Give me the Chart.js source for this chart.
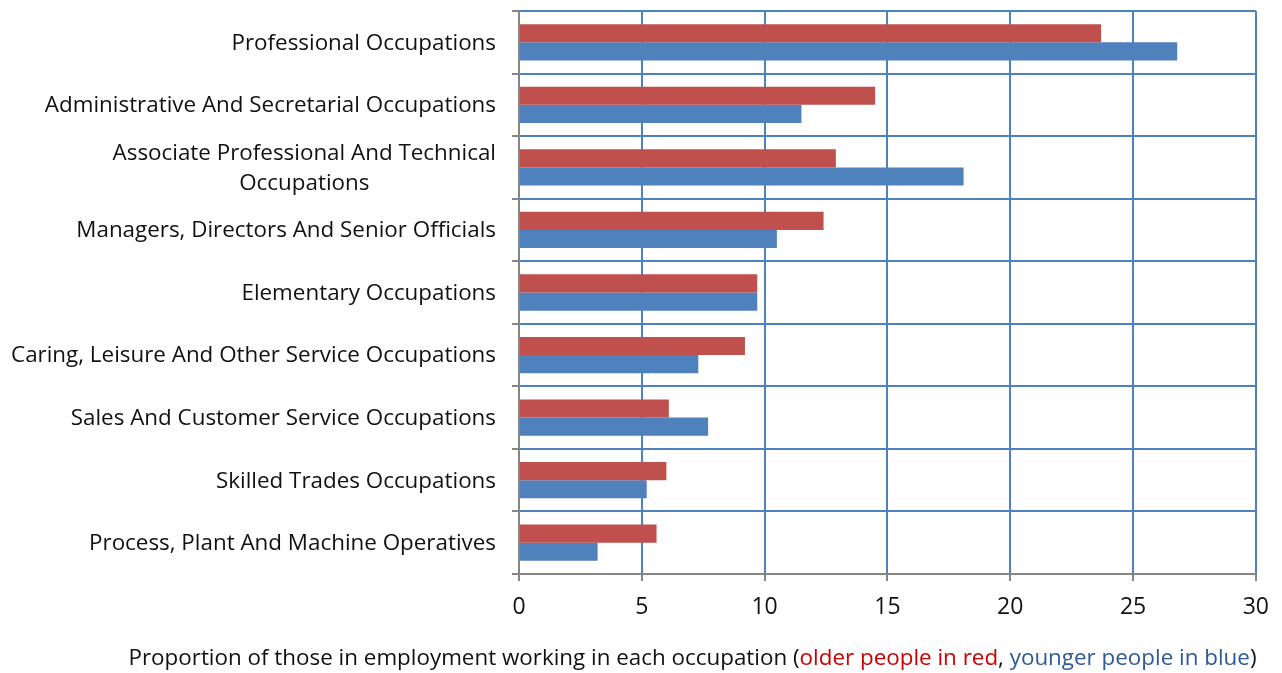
<!DOCTYPE html>
<html>
<head>
<meta charset="utf-8">
<script src="https://cdn.jsdelivr.net/npm/chart.js@4"></script>
<style>
  html, body { margin: 0; padding: 0; background: #fff; }
  #wrap { position: relative; width: 1282px; height: 673px; }
  #axis-title {
    position: absolute; left: 0; width: 1385px; top: 641px;
    text-align: center; font: 22.4px "Open Sans", sans-serif; color: #111; white-space: nowrap;
  }
  .older { color: #cc0000; }
  .younger { color: #2e5a94; }
</style>
</head>
<body>
<div id="wrap">
  <canvas id="chart" width="1282" height="673"></canvas>
  <div id="axis-title">Proportion of those in employment working in each occupation (<span class="older">older people in red</span>, <span class="younger">younger people in blue</span>)</div>
</div>
<script>
// Occupation groups, top to bottom
const occupations = [
  ['Professional Occupations'],
  ['Administrative And Secretarial Occupations'],
  ['Associate Professional And Technical', 'Occupations'],
  ['Managers, Directors And Senior Officials'],
  ['Elementary Occupations'],
  ['Caring, Leisure And Other Service Occupations'],
  ['Sales And Customer Service Occupations'],
  ['Skilled Trades Occupations'],
  ['Process, Plant And Machine Operatives']
];
const olderPeople = [23.7, 14.5, 12.9, 12.4, 9.7, 9.2, 6.1, 6.0, 5.6];
const youngerPeople = [26.8, 11.5, 18.1, 10.5, 9.7, 7.3, 7.7, 5.2, 3.2];
const xTicks = [0, 5, 10, 15, 20, 25, 30];

const FONT = '"Open Sans", sans-serif';
const gridBlue = '#4f81bd';
const axisGrey = '#868686';

// y labels drawn by hand so that wrapped lines are centred within a right-aligned block
const yLabelPlugin = {
  id: 'yLabels',
  afterDraw(chart) {
    const ctx = chart.ctx;
    const y = chart.scales.y;
    ctx.save();
    ctx.font = '22.4px ' + FONT;
    ctx.fillStyle = '#111';
    ctx.textBaseline = 'middle';
    ctx.textAlign = 'center';
    const right = y.right - 23;
    const lineH = 30;
    occupations.forEach((lines, i) => {
      const cy = y.getPixelForTick(i) + 1;
      const w = Math.max(...lines.map(l => ctx.measureText(l).width));
      const cx = right - w / 2;
      lines.forEach((l, j) => {
        ctx.fillText(l, cx, cy + (j - (lines.length - 1) / 2) * lineH);
      });
    });
    ctx.restore();
  }
};

new Chart(document.getElementById('chart'), {
  type: 'bar',
  data: {
    labels: occupations.map(l => l.join(' ')),
    datasets: [
      { label: 'Older people', data: olderPeople, backgroundColor: '#c0504d' },
      { label: 'Younger people', data: youngerPeople, backgroundColor: '#4f81bd' }
    ]
  },
  options: {
    indexAxis: 'y',
    responsive: false,
    animation: false,
    layout: { padding: { top: 11, right: 25, left: 0, bottom: 0 } },
    datasets: { bar: { barPercentage: 1, categoryPercentage: 0.58 } },
    plugins: { legend: { display: false }, tooltip: { enabled: false } },
    scales: {
      x: {
        min: 0, max: 30,
        afterBuildTicks: s => { s.ticks = xTicks.map(v => ({ value: v })); },
        afterFit: s => { s.height = 99; },
        grid: {
          color: c => (c.tick && c.tick.value === 0) ? 'rgba(0,0,0,0)' : gridBlue,
          lineWidth: 2,
          tickColor: axisGrey,
          tickLength: 7
        },
        border: { color: axisGrey, width: 2 },
        ticks: { font: { family: FONT, size: 23 }, color: '#111', padding: 13 }
      },
      y: {
        afterFit: s => { s.width = 519; },
        grid: {
          offset: true,
          color: c => c.index === occupations.length ? 'rgba(0,0,0,0)' : gridBlue,
          lineWidth: 2,
          tickColor: axisGrey,
          tickLength: 7
        },
        border: { color: axisGrey, width: 2 },
        ticks: { display: false }
      }
    }
  },
  plugins: [yLabelPlugin]
});
</script>
</body>
</html>
